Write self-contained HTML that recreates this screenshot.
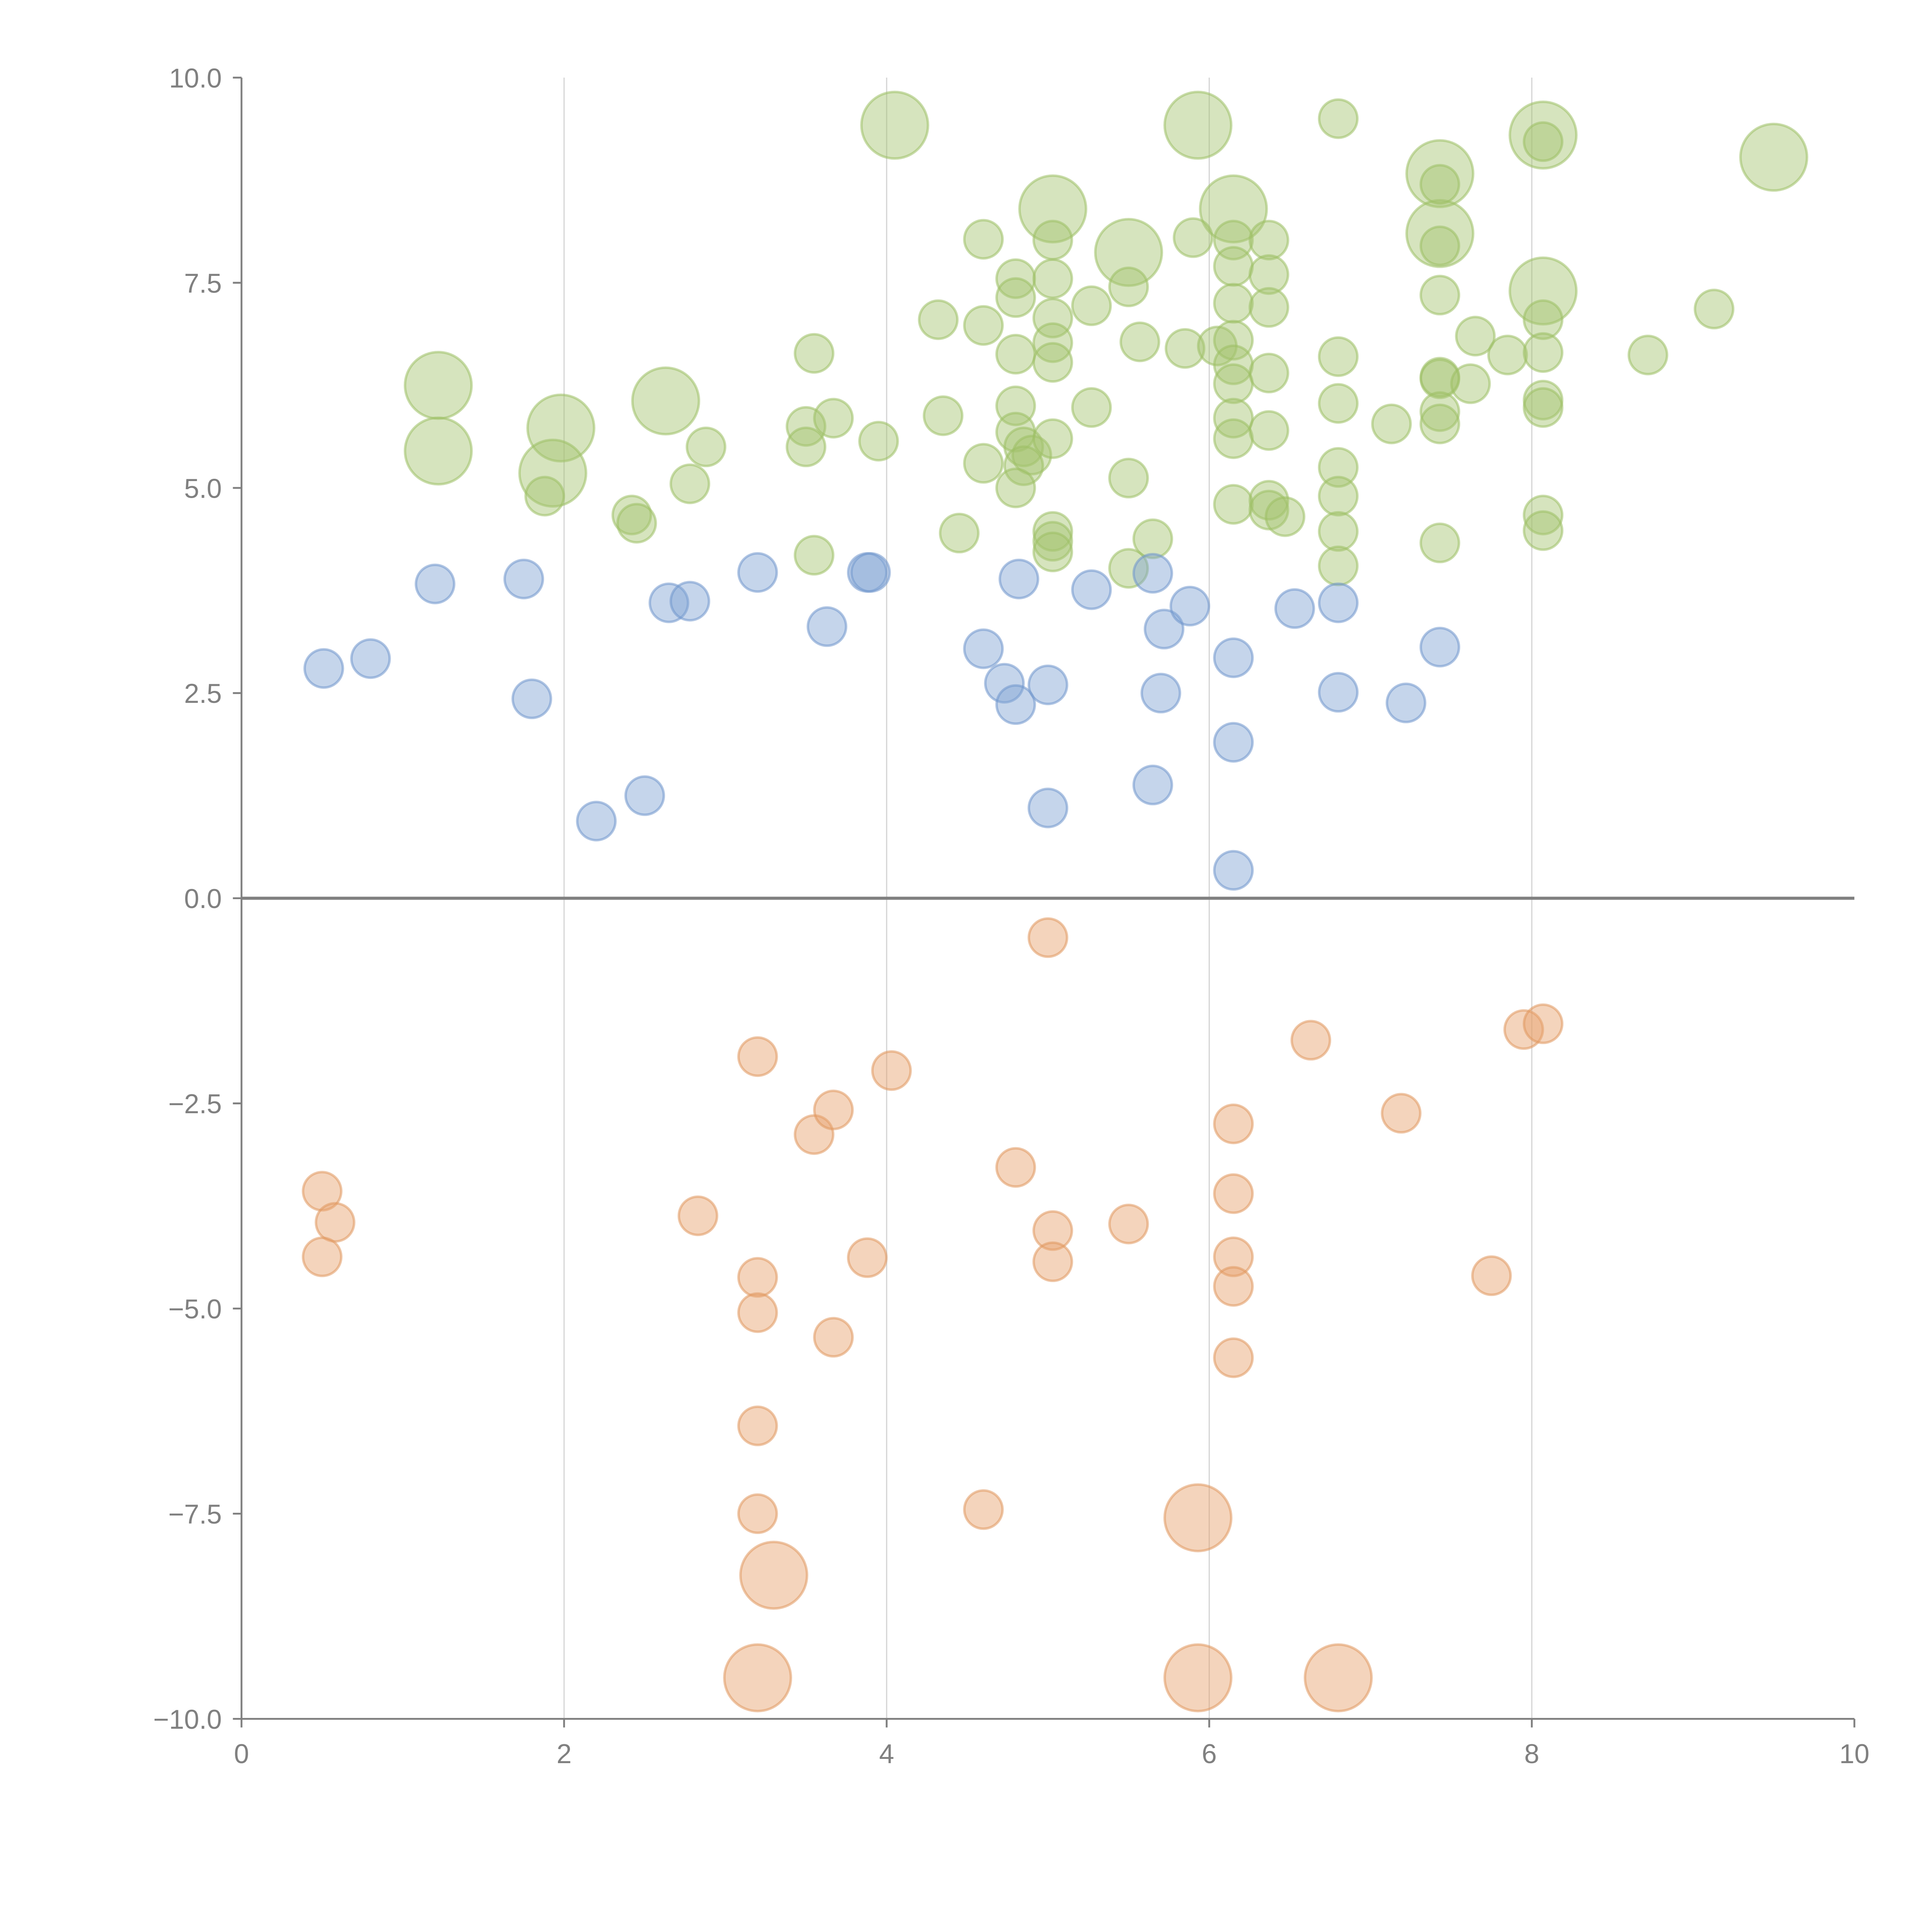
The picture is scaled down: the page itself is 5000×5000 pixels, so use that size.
<!DOCTYPE html>
<html><head><meta charset="utf-8"><style>
html,body{margin:0;padding:0;background:#fff;}
svg{display:block;}
text{font-family:"Liberation Sans",Arial,sans-serif;}
</style></head><body>
<svg id="chart" width="5000" height="5000" viewBox="0 0 1568 1568" xmlns="http://www.w3.org/2000/svg">
<g id="grid"></g>
<g id="marks"></g>
<g id="axes"></g>
</svg>
<script>
const blueX=[0.51,0.8,1.2,1.75,1.8,2.2,2.5,2.65,2.78,3.2,3.63,3.88,3.9,4.6,4.73,4.8,4.82,5.0,5.0,5.27,5.65,5.65,5.7,5.72,5.88,6.15,6.15,6.15,6.53,6.8,6.8,7.22,7.43];
const blueY=[2.8,2.92,3.83,3.89,2.43,0.94,1.25,3.6,3.62,3.97,3.31,3.97,3.97,3.04,2.62,2.36,3.89,2.6,1.1,3.76,3.96,1.38,2.5,3.28,3.56,2.93,1.9,0.34,3.53,3.6,2.51,2.38,3.06];
const orangeX=[5.0,0.5,0.58,0.5,2.83,3.2,3.2,3.2,3.2,3.2,3.55,3.67,3.67,3.88,4.03,4.6,4.8,5.03,5.03,5.5,6.15,6.15,6.15,6.15,6.15,6.63,7.19,7.75,7.95,8.07,3.3,3.2,5.93,5.93,6.8];
const orangeY=[-0.48,-3.57,-3.95,-4.37,-3.87,-1.93,-4.62,-5.05,-6.43,-7.5,-2.88,-2.58,-5.35,-4.38,-2.1,-7.45,-3.28,-4.05,-4.43,-3.97,-2.75,-3.6,-4.37,-4.73,-5.6,-1.73,-2.62,-4.6,-1.6,-1.53,-8.25,-9.5,-7.55,-9.5,-9.5];
const orangeS=[1,1,1,1,1,1,1,1,1,1,1,1,1,1,1,1,1,1,1,1,1,1,1,1,1,1,1,1,1,1,3,3,3,3,3];
const greenX=[4.05,5.93,8.07,9.5,5.03,6.15,7.43,7.43,5.5,8.07,1.22,1.22,1.98,1.93,2.63,
6.8,8.07,7.43,4.6,5.03,5.9,6.15,6.37,7.43,4.8,5.03,6.15,6.37,4.32,4.6,4.8,5.03,5.27,5.5,6.15,6.37,7.43,8.07,9.13,3.55,4.8,5.03,5.03,5.57,5.85,6.05,6.15,6.15,6.15,6.37,6.8,7.43,7.43,7.65,7.62,7.85,8.07,8.72,3.5,3.67,3.95,4.35,4.8,4.8,4.85,4.9,4.85,5.03,5.27,6.15,6.15,6.37,6.8,6.8,7.13,7.43,7.43,8.07,8.07,3.5,2.88,2.78,1.88,2.42,2.45,4.6,4.8,5.5,6.15,6.37,6.37,6.47,6.8,6.8,6.8,7.43,8.07,8.07,3.55,4.45,5.03,5.03,5.03,5.5,5.65];
const greenY=[9.42,9.42,9.3,9.03,8.4,8.4,8.83,8.1,7.87,7.4,6.25,5.45,5.73,5.18,6.06,
9.5,9.22,8.7,8.03,8.02,8.05,8.02,8.02,7.95,7.55,7.55,7.7,7.6,7.05,6.98,7.32,7.07,7.22,7.45,7.25,7.2,7.35,7.05,7.18,6.64,6.63,6.77,6.53,6.78,6.7,6.73,6.8,6.5,6.27,6.4,6.6,6.35,6.33,6.85,6.27,6.62,6.65,6.62,5.75,5.85,5.57,5.88,6.0,5.68,5.5,5.4,5.27,5.6,5.98,5.85,5.6,5.7,6.03,5.25,5.78,5.93,5.78,6.07,5.98,5.5,5.5,5.05,4.9,4.67,4.57,5.3,5.0,5.12,4.8,4.85,4.73,4.65,4.9,4.47,4.05,4.33,4.67,4.48,4.18,4.45,4.47,4.35,4.22,4.02,4.38];
const greenS=[3,3,3,3,3,3,3,3,3,3,3,3,3,3,3].concat(new Array(greenX.length-15).fill(1));
const xTicks=[0,2,4,6,8,10];
const yTicks=[10,7.5,5,2.5,0,-2.5,-5,-7.5,-10];
const yTickLabels=["10.0","7.5","5.0","2.5","0.0","\u22122.5","\u22125.0","\u22127.5","\u221210.0"];

const X0=196,X1=1505,Y0=1395,Y1=63;
const sx=v=>X0+(v-0)/(10-0)*(X1-X0);
const sy=v=>Y0-(v+10)/20*(Y0-Y1);
const NS="http://www.w3.org/2000/svg";
function mk(tag,attrs,parent){const e=document.createElementNS(NS,tag);for(const k in attrs)e.setAttribute(k,attrs[k]);parent.appendChild(e);return e;}
const grid=document.getElementById('grid'),marks=document.getElementById('marks'),axes=document.getElementById('axes');
[2,4,6,8].forEach(v=>{const l=mk('line',{x1:sx(v),x2:sx(v),y1:Y1,y2:Y0,stroke:'#d6d6d6','stroke-width':1},grid);

});
function series(xs,ys,ss,fill,stroke,name){
 for(let i=0;i<xs.length;i++){
  const r=ss?(ss[i]>1?27:15.5):15.5;
  const c=mk('circle',{cx:sx(xs[i]),cy:sy(ys[i]),r:r,fill:fill,'fill-opacity':0.45,stroke:stroke,'stroke-opacity':0.55,'stroke-width':2},marks);
  
  
 }
}
series(greenX,greenY,greenS,'#a3c46e','#9dbf65','bubble-green');
series(blueX,blueY,null,'#7fa2d2','#6f95cc','bubble-blue');
series(orangeX,orangeY,orangeS,'#e6a06a','#e0975f','bubble-orange');
const z=mk('line',{x1:X0,x2:X1,y1:sy(0),y2:sy(0),stroke:'#808080','stroke-width':2.5},axes);


const ya=mk('line',{x1:X0,x2:X0,y1:Y1,y2:Y0,stroke:'#808080','stroke-width':1.5},axes);


const xa=mk('line',{x1:X0,x2:X1,y1:Y0,y2:Y0,stroke:'#808080','stroke-width':1.5},axes);


xTicks.forEach(v=>{
 const t=mk('line',{x1:sx(v),x2:sx(v),y1:Y0,y2:Y0+7,stroke:'#808080','stroke-width':1.5},axes);
 
 
 const tx=mk('text',{x:sx(v),y:Y0+36,'text-anchor':'middle','font-size':22,fill:'#808080'},axes);
 tx.textContent=String(v);
 
 
});
yTicks.forEach((v,i)=>{
 const t=mk('line',{x1:X0-7,x2:X0,y1:sy(v),y2:sy(v),stroke:'#808080','stroke-width':1.5},axes);
 
 
 const tx=mk('text',{x:X0-16,y:sy(v)+8,'text-anchor':'end','font-size':22,fill:'#808080'},axes);
 tx.textContent=yTickLabels[i];
 
 
});
</script>
</body></html>
